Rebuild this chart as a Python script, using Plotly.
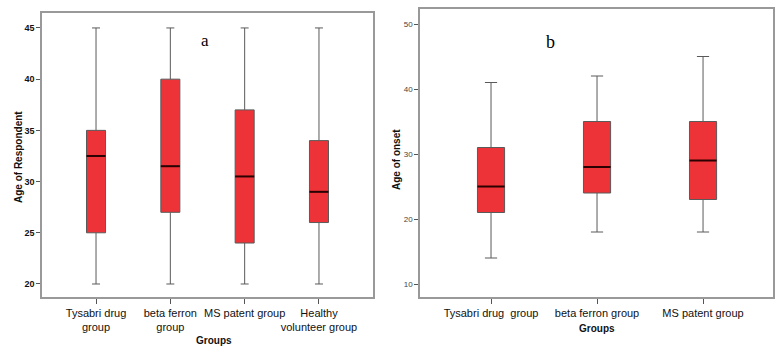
import plotly.graph_objects as go

# ---- Data: panel a (Age of Respondent) ----
groups_a = ["Tysabri drug<br>group", "beta ferron<br>group", "MS patent group", "Healthy<br>volunteer group"]
min_a = [20, 20, 20, 20]
q1_a = [25, 27, 24, 26]
med_a = [32.5, 31.5, 30.5, 29]
q3_a = [35, 40, 37, 34]
max_a = [45, 45, 45, 45]

# ---- Data: panel b (Age of onset) ----
groups_b = ["Tysabri drug  group", "beta ferron group", "MS patent group"]
min_b = [14, 18, 18]
q1_b = [21, 24, 23]
med_b = [25, 28, 29]
q3_b = [31, 35, 35]
max_b = [41, 42, 45]

W, H = 782, 355
FILL = "#EE3338"
EDGE = "#5a5a5a"
FRAME = "#999999"
FONT = "Liberation Sans Narrow, Arial Narrow, Liberation Sans, Arial"
BOXW = 0.256

fig = go.Figure()

fig.add_trace(go.Box(
    x=list(range(len(groups_a))), q1=q1_a, median=med_a, q3=q3_a,
    lowerfence=min_a, upperfence=max_a, width=BOXW, whiskerwidth=0.42,
    fillcolor=FILL, line=dict(color=EDGE, width=1), boxpoints=False,
    xaxis="x", yaxis="y", showlegend=False, hoverinfo="skip"))

fig.add_trace(go.Box(
    x=list(range(len(groups_b))), q1=q1_b, median=med_b, q3=q3_b,
    lowerfence=min_b, upperfence=max_b, width=BOXW, whiskerwidth=0.45,
    fillcolor=FILL, line=dict(color=EDGE, width=1), boxpoints=False,
    xaxis="x2", yaxis="y2", showlegend=False, hoverinfo="skip"))

shapes = []
for i, m in enumerate(med_a):
    shapes.append(dict(type="line", xref="x", yref="y", x0=i - BOXW / 2, x1=i + BOXW / 2,
                       y0=m, y1=m, line=dict(color="#2a0000", width=2)))
for i, m in enumerate(med_b):
    shapes.append(dict(type="line", xref="x2", yref="y2", x0=i - BOXW / 2, x1=i + BOXW / 2,
                       y0=m, y1=m, line=dict(color="#2a0000", width=2)))

ax_common = dict(showline=True, linecolor=FRAME, linewidth=1.5, mirror=True,
                 showgrid=False, zeroline=False, ticks="outside",
                 tickcolor="#555", fixedrange=True)

fig.update_layout(
    width=W, height=H, margin=dict(l=0, r=0, t=0, b=0),
    paper_bgcolor="white", plot_bgcolor="white",
    shapes=shapes,
    xaxis=dict(**ax_common, domain=[42 / W, 373 / W], range=[-0.727, 3.727],
               tickmode="array", tickvals=list(range(len(groups_a))), ticktext=groups_a,
               tickangle=0, automargin=False,
               tickfont=dict(family=FONT, size=11, color="#111"), ticklen=5),
    yaxis=dict(**ax_common, domain=[(H - 297) / H, (H - 13) / H], range=[18.73, 46.46],
               tickvals=[20, 25, 30, 35, 40, 45], ticklen=4, automargin=False,
               tickfont=dict(family=FONT, size=9, color="#111", weight="bold")),
    xaxis2=dict(**ax_common, domain=[420 / W, 773 / W], range=[-0.67, 2.66],
                tickmode="array", tickvals=list(range(len(groups_b))), ticktext=groups_b,
                tickangle=0, automargin=False,
                tickfont=dict(family=FONT, size=11, color="#111"), ticklen=5, anchor="y2"),
    yaxis2=dict(**ax_common, domain=[(H - 297) / H, (H - 9) / H], range=[8.0, 52.31],
                tickvals=[10, 20, 30, 40, 50], anchor="x2", ticklen=4, automargin=False,
                tickfont=dict(family=FONT, size=8, color="#444")),
)

ann = [
    dict(text="<b>Age of Respondent</b>", x=18, y=(H - 157), textangle=-90),
    dict(text="<b>Groups</b>", x=214, y=(H - 340), textangle=0),
    dict(text="<b>Age of onset</b>", x=397, y=(H - 160), textangle=-90),
    dict(text="<b>Groups</b>", x=597, y=(H - 328), textangle=0),
]
annotations = []
for a in ann:
    annotations.append(dict(text=a["text"], xref="paper", yref="paper",
                            x=a["x"] / W, y=a["y"] / H, showarrow=False,
                            textangle=a["textangle"], xanchor="center", yanchor="middle",
                            font=dict(family=FONT, size=10, color="#111")))
annotations.append(dict(text="a", xref="paper", yref="paper", x=205 / W, y=(H - 41) / H,
                        showarrow=False, xanchor="center", yanchor="middle",
                        font=dict(family="Liberation Serif, DejaVu Serif", size=17, color="#000")))
annotations.append(dict(text="b", xref="paper", yref="paper", x=550 / W, y=(H - 42) / H,
                        showarrow=False, xanchor="center", yanchor="middle",
                        font=dict(family="Liberation Serif, DejaVu Serif", size=18, color="#000")))
fig.update_layout(annotations=annotations)

fig.write_html("out.html", config={"displayModeBar": False},
               post_script="document.body.style.margin='0';")
